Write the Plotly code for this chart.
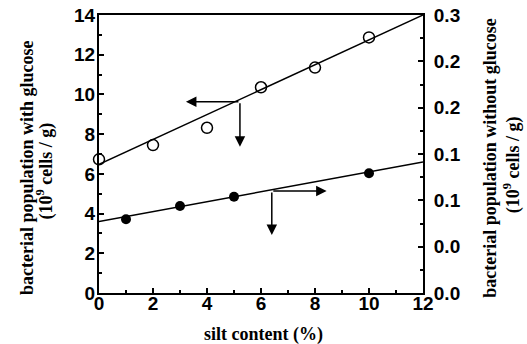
import plotly.graph_objects as go

# open circles: with glucose (left axis, 10^9 cells/g)
silt_open = [0, 2, 4, 6, 8, 10]
pop_glucose = [6.73, 7.45, 8.32, 10.36, 11.35, 12.87]
fit_x = [0, 12]
fit_glucose = [6.48, 14.0]

# filled circles: without glucose (right axis, 10^9 cells/g)
silt_filled = [1, 3, 5, 10]
pop_noglucose = [0.0795, 0.0939, 0.1039, 0.1293]
fit_noglucose = [0.0771, 0.1414]

# arrows: (junction x, junction y, tip x, down tip y)
arrow_glucose = [5.22, 9.63, 3.22, 7.37]
arrow_noglucose = [6.4, 0.110, 8.43, 0.0626]

x_ticks = [0, 2, 4, 6, 8, 10, 12]
y_ticks = [0, 2, 4, 6, 8, 10, 12, 14]
y2_ticks = [0, 0.05, 0.1, 0.15, 0.2, 0.25, 0.3]
y2_ticktext = ["0.0", "0.0", "0.1", "0.1", "0.2", "0.2", "0.3"]

fig = go.Figure()
fig.add_trace(go.Scatter(x=fit_x, y=fit_glucose, mode="lines",
                         line=dict(color="black", width=1.5), showlegend=False))
fig.add_trace(go.Scatter(x=silt_open, y=pop_glucose, mode="markers",
                         marker=dict(symbol="circle-open", size=11, color="black",
                                     line=dict(width=1.5, color="black")),
                         showlegend=False, cliponaxis=False))
fig.add_trace(go.Scatter(x=fit_x, y=fit_noglucose, mode="lines", yaxis="y2",
                         line=dict(color="black", width=1.5), showlegend=False))
fig.add_trace(go.Scatter(x=silt_filled, y=pop_noglucose, mode="markers", yaxis="y2",
                         marker=dict(symbol="circle", size=10, color="black"),
                         showlegend=False, cliponaxis=False))

ann = []
arr = dict(showarrow=True, arrowhead=2, arrowsize=1.4, arrowwidth=1.5,
           arrowcolor="black", text="", axref="x", xref="x")
jx, jy, lx, dy = arrow_glucose
ann.append(dict(x=lx, y=jy, ax=jx, ay=jy, yref="y", ayref="y", **arr))
ann.append(dict(x=jx, y=dy, ax=jx, ay=jy, yref="y", ayref="y", **arr))
jx, jy, rx, dy = arrow_noglucose
ann.append(dict(x=rx, y=jy, ax=jx, ay=jy, yref="y2", ayref="y2", **arr))
ann.append(dict(x=jx, y=dy, ax=jx, ay=jy, yref="y2", ayref="y2", **arr))

title_font = dict(family="Liberation Serif", size=18, color="black", weight="bold")
titles = [
    ("bacterial population with glucose", -0.222, 0.45, -90),
    ("(10<sup>9</sup> cells / g)", -0.167, 0.44, -90),
    ("bacterial population without glucose", 1.207, 0.487, -90),
    ("(10<sup>9</sup> cells / g)", 1.275, 0.46, -90),
    ("silt content (%)", 0.509, -0.151, 0),
]
for txt, px, py, ang in titles:
    ann.append(dict(x=px, y=py, xref="paper", yref="paper", textangle=ang, text=txt,
                    showarrow=False, xanchor="center", yanchor="middle", font=title_font))

tick_font = dict(family="Liberation Sans", size=19, color="black", weight="bold")
common = dict(ticks="inside", ticklen=5, tickwidth=1.5, tickcolor="black", showline=True,
              linewidth=2, linecolor="black", showgrid=False, zeroline=False,
              tickfont=tick_font, automargin=False)
fig.update_layout(
    width=527, height=344,
    margin=dict(l=99, r=104, t=15, b=51, autoexpand=False),
    plot_bgcolor="white", paper_bgcolor="white",
    annotations=ann,
    xaxis=dict(range=[0, 12], tickvals=x_ticks, mirror=True, ticklabelstandoff=-8,
               minor=dict(dtick=1, tick0=0, ticks="inside", ticklen=3, tickcolor="black"),
               **common),
    yaxis=dict(range=[0, 14], tickvals=y_ticks, ticklabelstandoff=-2,
               minor=dict(dtick=1, tick0=0, ticks="inside", ticklen=3, tickcolor="black"),
               **common),
    yaxis2=dict(range=[0, 0.3], overlaying="y", side="right", tickvals=y2_ticks,
                ticktext=y2_ticktext, ticklabelstandoff=5,
                minor=dict(dtick=0.025, tick0=0, ticks="inside", ticklen=3, tickcolor="black"),
                **common),
)

fig.write_html("out.html", post_script="document.body.style.margin='0';",
               config={"displayModeBar": False})
